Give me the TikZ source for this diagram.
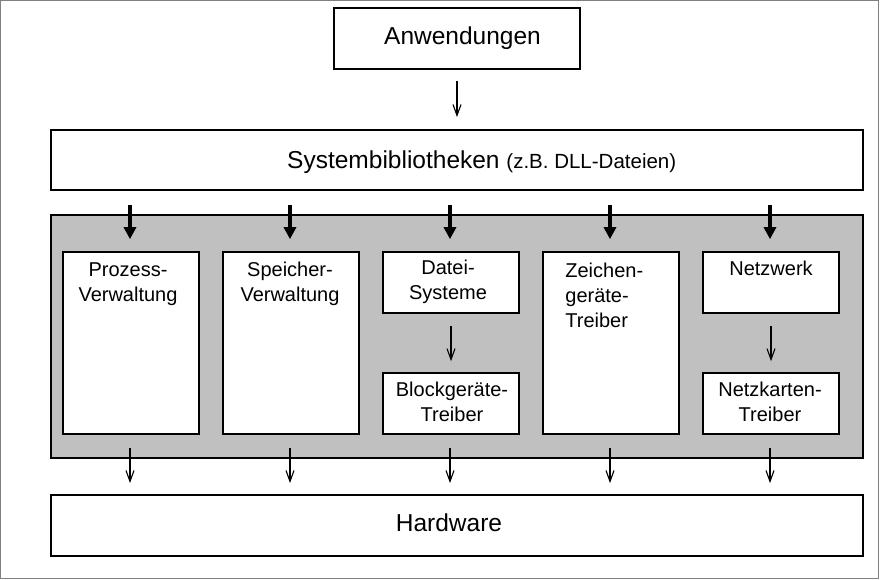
\documentclass[tikz,border=0pt]{standalone}
\usepackage{fontspec}
\setmainfont{Liberation Sans}
\usetikzlibrary{arrows.meta}
\definecolor{osgray}{HTML}{C0C0C0}
\definecolor{framegray}{HTML}{808080}
\tikzset{
  bigbox/.style={draw=black, line width=1.8pt, fill=white, inner sep=0pt},
  bigtxt/.style={inner sep=0pt, font=\fontsize{24.5}{28}\selectfont},
  smallbox/.style={draw=black, line width=1.6pt, fill=white, inner sep=0pt, minimum width=136pt},
  txt/.style={inner sep=0pt, align=center, font=\fontsize{20}{25}\selectfont},
  thinarrow/.style={line width=1.1pt, -{Straight Barb[length=11pt,width=8pt]}},
  thickarrow/.style={line width=3.2pt, -{Triangle[length=12pt,width=12pt]}},
}
\begin{document}
\begin{tikzpicture}[x=1pt,y=-1pt]
\useasboundingbox (0,0) rectangle (880,580);
\draw[framegray, line width=1pt] (0.5,0.5) rectangle (878.5,578);

\node[bigbox, minimum width=246pt, minimum height=61pt] (anw) at (457,38.5) {};
\node[bigbox, minimum width=812pt, minimum height=60pt] (sys) at (457,160) {};
\node[draw=black, line width=1.8pt, fill=osgray, inner sep=0pt,
  minimum width=812pt, minimum height=243pt] (os) at (457,336.5) {};
\node[bigbox, minimum width=812pt, minimum height=61pt] (hw) at (457,525.5) {};

\node[bigtxt, anchor=base] (tanw) at (462.5,44.3) {Anwendungen};
\node[bigtxt, anchor=base west] (tsys) at (287,168.3)
  {Systembibliotheken {\fontsize{20.5}{24}\selectfont (z.B. DLL-Dateien)}};
\node[bigtxt, anchor=base] (thw) at (449,531.7) {Hardware};

\node[smallbox, minimum height=182pt] (proz) at (131,343) {};
\node[smallbox, minimum height=182pt] (speich) at (291,343) {};
\node[smallbox, minimum height=61pt] (datei) at (451,282.5) {};
\node[smallbox, minimum height=61pt] (block) at (451,403.5) {};
\node[smallbox, minimum height=182pt] (zeich) at (611,343) {};
\node[smallbox, minimum height=61pt] (netz) at (771,282.5) {};
\node[smallbox, minimum height=61pt] (karte) at (771,403.5) {};

% base anchor = baseline of the last line
\node[txt, anchor=base] (tproz) at ([xshift=-3pt,yshift=-50pt]proz.north) {Prozess-\\Verwaltung};
\node[txt, anchor=base] (tspeich) at ([xshift=-1pt,yshift=-50pt]speich.north) {Speicher-\\Verwaltung};
\node[txt, anchor=base] (tdatei) at ([xshift=-3pt,yshift=-48.5pt]datei.north) {Datei-\\Systeme};
\node[txt, anchor=base] (tblock) at ([xshift=1pt,yshift=-49pt]block.north) {Blockgeräte-\\Treiber};
\node[txt, anchor=base west, align=left] (tzeich) at ([xshift=23pt,yshift=-76pt]zeich.north west) {Zeichen-\\geräte-\\Treiber};
\node[txt, anchor=base] (tnetz) at ([yshift=-24pt]netz.north) {Netzwerk};
\node[txt, anchor=base] (tkarte) at ([xshift=-1pt,yshift=-49pt]karte.north) {Netzkarten-\\Treiber};

\draw[thinarrow, shorten <=11pt, shorten >=12pt] (anw.south) -- (anw.south |- sys.north);
\foreach \b in {proz,speich,datei,zeich,netz}{
  \draw[thickarrow, shorten <=14pt, shorten >=12pt] ([xshift=-1pt]\b.north |- sys.south) -- ([xshift=-1pt]\b.north);
}
\foreach \b in {proz,speich,block,zeich,karte}{
  \draw[thinarrow, shorten <=13pt, shorten >=11pt] ([xshift=-1pt]\b.south) -- ([xshift=-1pt]\b.south |- hw.north);
}
\draw[thinarrow, shorten <=12pt, shorten >=11pt] (datei.south) -- (block.north);
\draw[thinarrow, shorten <=12pt, shorten >=11pt] (netz.south) -- (karte.north);
\end{tikzpicture}
\end{document}
